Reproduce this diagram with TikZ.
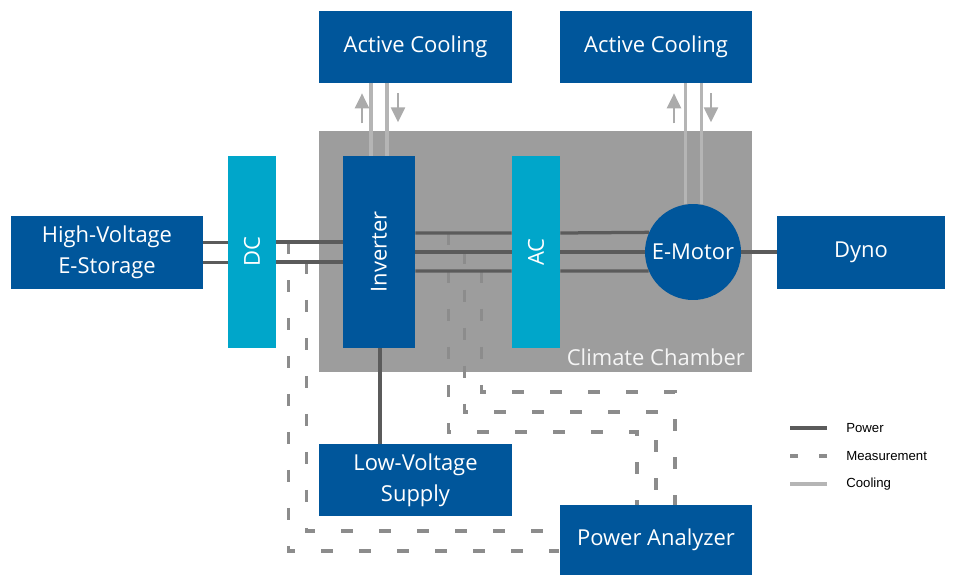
\documentclass[tikz,border=0pt]{standalone}
\usepackage{fontspec}
\usepackage{graphicx}
\setmainfont{Open Sans}
\newfontfamily\legendfont{Liberation Sans}
\usetikzlibrary{arrows.meta}

\definecolor{boxblue}{HTML}{00569B}
\definecolor{boxcyan}{HTML}{00A6CA}
\definecolor{chambergray}{HTML}{9D9D9D}
\definecolor{powergray}{HTML}{5B5B5B}
\definecolor{measgray}{HTML}{8C8C8C}
\definecolor{coolgray}{HTML}{B5B5B5}
\definecolor{flowgray}{HTML}{ABABAB}

\begin{document}
\begin{tikzpicture}[
  x=0.02cm, y=-0.02cm,
  box/.style={fill=boxblue, text=white, inner sep=0pt, align=center,
              font=\fontsize{12.5}{17.5}\selectfont},
  wide/.style={box, minimum width=3.86cm, minimum height=1.44cm},
  bar/.style={box, fill=boxcyan, minimum width=0.96cm, minimum height=3.84cm},
  motor/.style={box, circle, minimum size=1.92cm},
  chamber/.style={fill=chambergray, inner sep=0pt, minimum width=8.66cm,
                  minimum height=4.82cm},
  power/.style={draw=powergray, line width=0.065cm},
  meas/.style={draw=measgray, line width=0.065cm, dash pattern=on 0.24cm off 0.52cm},
  cool/.style={draw=coolgray, line width=0.07cm},
  flow/.style={draw=flowgray, line width=0.045cm, -{Triangle[width=0.28cm,length=0.3cm]}},
  legend/.style={anchor=west, inner sep=0pt, font=\legendfont\fontsize{7.5}{9}\selectfont}
]
\useasboundingbox (0,0) rectangle (960,575);

% climate chamber
\node[chamber] (chamber) at (535.5,251.5) {};
\node[anchor=base east, inner sep=0pt, text=white!92!gray,
      font=\fontsize{12.5}{15}\selectfont] (chlabel)
  at ([xshift=-0.14cm, yshift=0.14cm]chamber.south east) {Climate Chamber};

% components
\node[box, minimum width=3.84cm, minimum height=1.46cm] (hv) at (107,252.5)
  {High-Voltage\\E-Storage};
\node[bar] (dc) at (252,252) {\rotatebox{90}{DC}};
\node[box, minimum width=1.44cm, minimum height=3.84cm] (inv) at (379,252)
  {\rotatebox{90}{Inverter}};
\node[bar] (ac) at (536,252) {\rotatebox{90}{AC}};
\node[motor] (motor) at (693,252) {E-Motor};
\node[box, minimum width=3.36cm, minimum height=1.46cm] (dyno) at (861,252.5) {Dyno};
\node[wide] (cool1) at (415.5,47) {Active Cooling};
\node[wide] (cool2) at (656,47) {Active Cooling};
\node[wide] (lv) at (415.5,480) {Low-Voltage\\Supply};
\node[wide, minimum height=1.4cm] (pa) at (656,540) {Power Analyzer};

% measurement taps
\coordinate (tap1) at ([xshift=0.24cm, yshift=0.2cm]dc.east);
\coordinate (tap2) at ([xshift=0.6cm, yshift=-0.2cm]dc.east);
\coordinate (tap3) at ([xshift=0.66cm, yshift=0.38cm]inv.east);
\coordinate (tap4) at ([xshift=0.98cm]inv.east);
\coordinate (tap5) at ([xshift=1.32cm, yshift=-0.38cm]inv.east);
\coordinate (pa1) at ([yshift=-0.22cm]pa.west);
\coordinate (pa2) at ([yshift=0.18cm]pa.west);
\coordinate (pa3) at ([xshift=-0.38cm]pa.north);
\coordinate (pa5) at ([xshift=0.38cm]pa.north);

\draw[meas] (tap1) |- (pa1);
\draw[meas] (tap2) |- (pa2);
\draw[meas] (tap3) -- (tap3 |- 0,432) -| (pa3);
\draw[meas] (tap4) -- (tap4 |- 0,412) -| (pa.north);
\draw[meas] (tap5) -- (tap5 |- 0,392) -| (pa5);

% power
\foreach \dy in {0.2,-0.2}
  \draw[power] ([yshift=\dy cm]hv.east) -- ([yshift=\dy cm]hv.east -| dc.west)
               ([yshift=\dy cm]dc.east) -- ([yshift=\dy cm]dc.east -| inv.west);
\foreach \dy/\a in {0.38/156.7, 0/180, -0.38/203.3}
  \draw[power] ([yshift=\dy cm]inv.east) -- ([yshift=\dy cm]inv.east -| ac.west)
               ([yshift=\dy cm]ac.east) -- (motor.\a);
\draw[power] (motor.east) -- (motor.east -| dyno.west);
\draw[power] ([xshift=0.02cm]inv.south) -- ([xshift=0.02cm]inv.south |- lv.north);

% cooling
\foreach \dx in {-0.16,0.16}
  \draw[cool] ([xshift=\dx cm]inv.north) -- ([xshift=\dx cm]inv.north |- cool1.south);
\foreach \a in {99.6,80.4}
  \draw[cool] (motor.\a) -- (motor.\a |- cool2.south);
\draw[flow] ([xshift=-0.34cm, yshift=-0.8cm]inv.north |- cool1.south) -- ++(0,-30);
\draw[flow] ([xshift=0.38cm, yshift=-0.2cm]inv.north |- cool1.south) -- ++(0,29);
\draw[flow] ([xshift=-0.38cm, yshift=-0.8cm]motor.north |- cool2.south) -- ++(0,-30);
\draw[flow] ([xshift=0.36cm, yshift=-0.2cm]motor.north |- cool2.south) -- ++(0,29);

% legend
\node[legend] (lpower) at (846,428) {Power};
\node[legend] (lmeas) at (846,456) {Measurement};
\node[legend] (lcool) at (846,484) {Cooling};
\draw[power] ([xshift=-0.38cm]lpower.west) -- ++(-37,0);
\draw[draw=measgray, line width=0.065cm, dash pattern=on 0.16cm off 0.42cm]
  ([xshift=-0.38cm]lmeas.west) -- ++(-37,0);
\draw[cool] ([xshift=-0.38cm]lcool.west) -- ++(-37,0);
\end{tikzpicture}
\end{document}
